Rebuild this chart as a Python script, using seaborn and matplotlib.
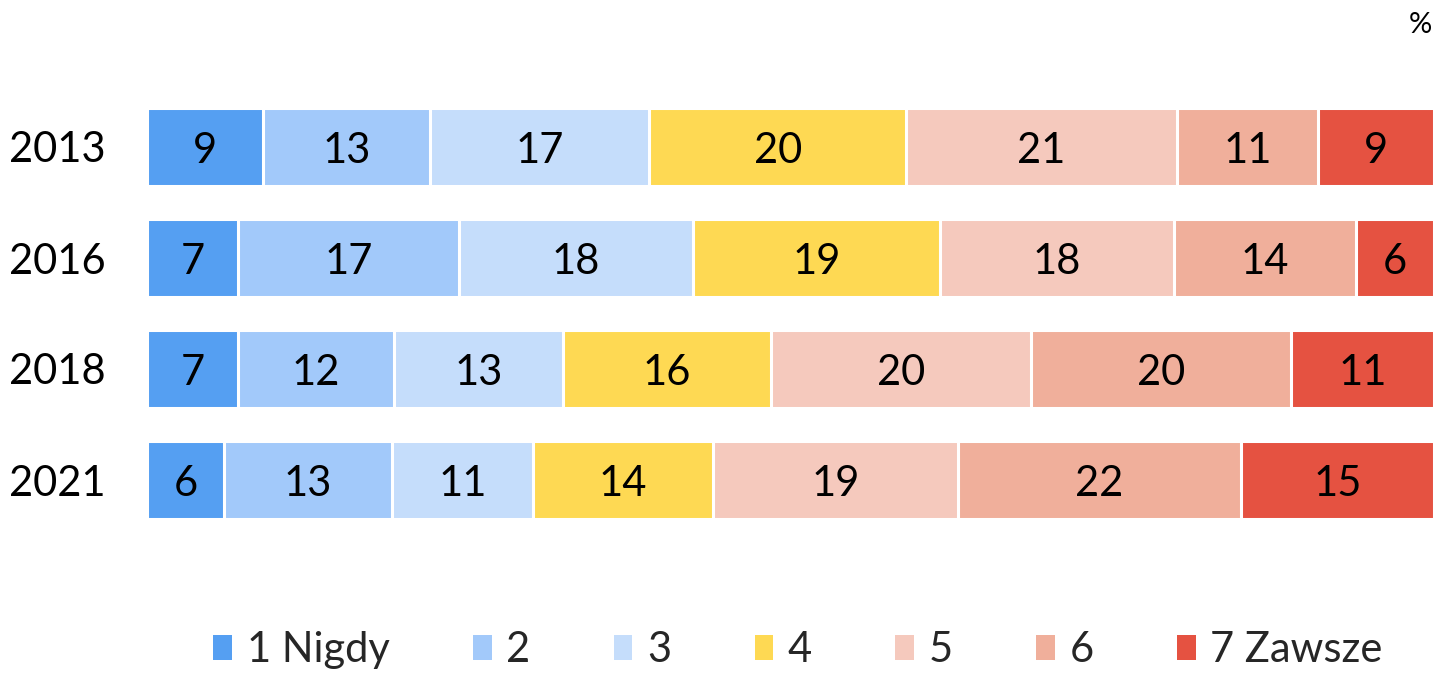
import numpy as np
import pandas as pd
import seaborn as sns
import matplotlib.pyplot as plt
from matplotlib.patches import Patch

years = ['2013', '2016', '2018', '2021']
categories = ['1 Nigdy', '2', '3', '4', '5', '6', '7 Zawsze']
values = [
    [9, 13, 17, 20, 21, 11, 9],
    [7, 17, 18, 19, 18, 14, 6],
    [7, 12, 13, 16, 20, 20, 11],
    [6, 13, 11, 14, 19, 22, 15],
]
colors = ['#559ff2', '#a2c9fa', '#c5ddfb', '#fed953', '#f5c9bd', '#f0af9b', '#e55241']

sns.set_theme(style='white')
plt.rcParams['font.family'] = ['Lato', 'DejaVu Sans']

vals = np.array(values, dtype=float)
# rows are shown as full 100% bars
shares = vals / vals.sum(axis=1, keepdims=True) * 100
cum = shares.cumsum(axis=1)

fig = plt.figure(figsize=(14.37, 6.74), dpi=100)
ax = fig.add_axes([147 / 1437, 1 - 535.5 / 674, (1434 - 147) / 1437, 444 / 674])

# stacked look: draw cumulative bars from the longest to the shortest
for k in reversed(range(len(categories))):
    df = pd.DataFrame({'year': years, 'cum': cum[:, k]})
    sns.barplot(data=df, x='cum', y='year', orient='h', color=colors[k],
                width=0.7, edgecolor='white', linewidth=2.2, saturation=1, ax=ax)

for i in range(len(years)):
    for k in range(len(categories)):
        ax.text(cum[i, k] - shares[i, k] / 2, i + 0.04, f'{values[i][k]}',
                ha='center', va='center', fontsize=30, color='black')

ax.set_xlim(0, 100)
ax.set_ylim(3.5, -0.5)
ax.set_xlabel('')
ax.set_ylabel('')
ax.set_xticks([])
ax.tick_params(axis='y', length=0, pad=30, labelsize=30)
for lbl in ax.get_yticklabels():
    lbl.set_color('black')
sns.despine(ax=ax, left=True, bottom=True)

fig.text(1420 / 1437, 1 - 25 / 674, '%', ha='center', va='center', fontsize=21, color='black')

handles = [Patch(facecolor=c, edgecolor='none') for c in colors]
fig.legend(handles, categories, loc='center', ncol=7, frameon=False,
           bbox_to_anchor=(798 / 1437, 1 - 650 / 674), fontsize=30,
           handlelength=0.45, handleheight=0.55, handletextpad=0.35,
           columnspacing=2.0, borderpad=0.1)

fig.savefig('out.png', dpi=100)
